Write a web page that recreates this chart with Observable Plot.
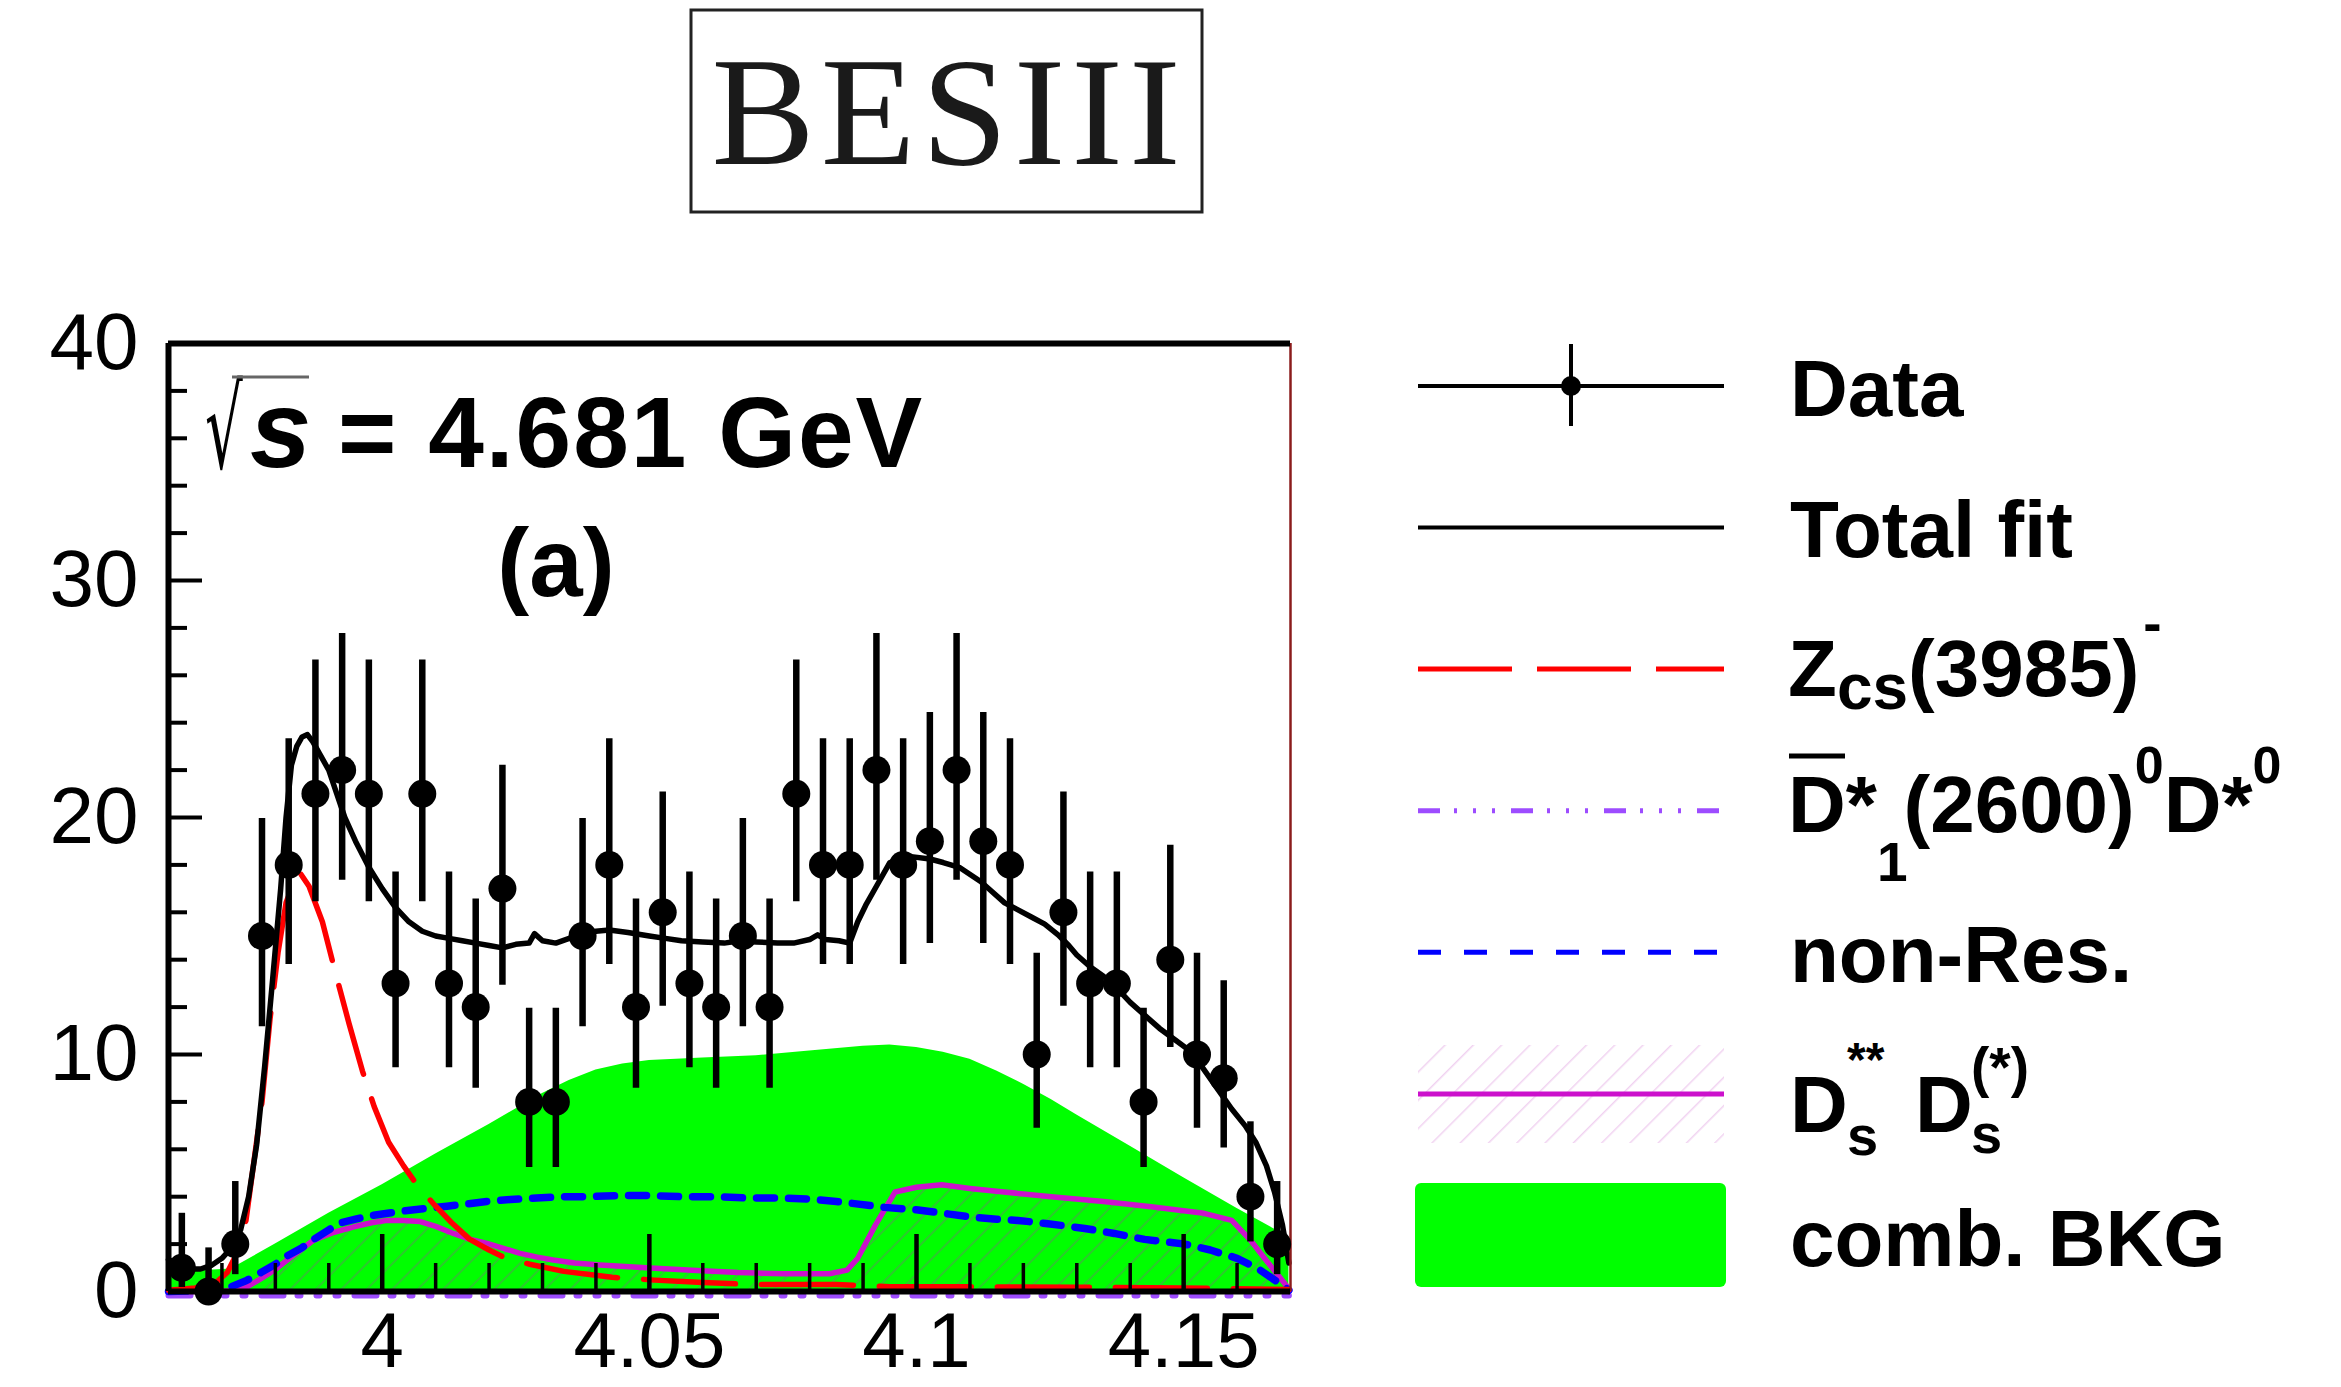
<!DOCTYPE html>
<html><head><meta charset="utf-8">
<script src="https://cdn.jsdelivr.net/npm/d3@7"></script>
<script src="https://cdn.jsdelivr.net/npm/@observablehq/plot@0.6"></script>
<style>
html,body{margin:0;padding:0;background:#fff;}
#wrap{position:relative;width:2341px;height:1387px;overflow:hidden;background:#fff;}
#wrap svg{position:absolute;left:0;top:0;}
</style></head><body><div id="wrap"></div>
<script>
// ---------- data ----------
const binCenters = [3.9625,3.9675,3.9725,3.9775,3.9825,3.9875,3.9925,3.9975,4.0025,4.0075,4.0125,4.0175,4.0225,4.0275,4.0325,4.0375,4.0425,4.0475,4.0525,4.0575,4.0625,4.0675,4.0725,4.0775,4.0825,4.0875,4.0925,4.0975,4.1025,4.1075,4.1125,4.1175,4.1225,4.1275,4.1325,4.1375,4.1425,4.1475,4.1525,4.1575,4.1625,4.1675];
const counts  = [1,0,2,15,18,21,22,21,13,21,13,12,17,8,8,15,18,12,16,13,12,15,12,21,18,18,22,18,19,22,19,18,10,16,13,13,8,14,10,9,4,2];
const errLow  = [0.17,0,0.71,11.17,13.8,16.45,17.35,16.45,9.44,16.45,9.44,8.58,12.92,5.23,5.23,11.17,13.8,8.58,12.04,9.44,8.58,11.17,8.58,16.45,13.8,13.8,17.35,13.8,14.68,17.35,14.68,13.8,6.89,12.04,9.44,9.44,5.23,10.3,6.89,6.06,2.09,0.71];
const errHigh = [3.3,1.84,4.64,19.96,23.32,26.65,27.76,26.65,17.7,26.65,17.7,16.56,22.2,11.95,11.95,19.96,23.32,16.56,21.08,17.7,16.56,19.96,16.56,26.65,23.32,23.32,27.76,23.32,24.43,27.76,24.43,23.32,14.27,21.08,17.7,17.7,11.95,18.83,14.27,13.11,7.16,4.64];

const fitX = [3.96,3.962,3.964,3.966,3.968,3.970,3.972,3.9735,3.975,3.9765,3.978,3.9795,3.981,3.982,3.983,3.984,3.985,3.986,3.987,3.9885,3.990,3.9915,3.993,3.995,3.9975,4.000,4.0025,4.005,4.0075,4.010,4.0125,4.015,4.0175,4.020,4.0225,4.025,4.0275,4.0285,4.030,4.0325,4.035,4.0375,4.040,4.0425,4.046,4.050,4.053,4.056,4.060,4.064,4.067,4.070,4.074,4.077,4.080,4.0815,4.083,4.0855,4.0875,4.089,4.0905,4.0925,4.095,4.099,4.1025,4.105,4.108,4.112,4.114,4.1165,4.119,4.1215,4.124,4.1265,4.1285,4.130,4.1325,4.135,4.1375,4.140,4.143,4.1455,4.1485,4.1515,4.154,4.1565,4.159,4.1615,4.1635,4.1655,4.167,4.1685,4.1697];
const fitY = [1.35,1.1,0.95,0.95,1.1,1.4,1.9,2.6,4.0,6.2,9.5,13.2,17.0,20.0,22.2,23.0,23.4,23.5,23.2,22.6,22.0,21.0,20.0,19.0,17.9,17.0,16.2,15.6,15.2,15.0,14.9,14.8,14.7,14.6,14.5,14.65,14.7,15.1,14.8,14.7,14.9,15.1,15.2,15.25,15.15,15.0,14.9,14.8,14.75,14.7,14.8,14.75,14.7,14.7,14.85,15.05,14.85,14.8,14.7,15.6,16.3,17.1,18.1,18.35,18.25,18.1,17.9,17.3,16.9,16.4,16.1,15.8,15.5,15.05,14.6,14.2,13.7,13.3,12.8,12.2,11.6,11.1,10.6,10.1,9.3,8.5,7.7,7.0,6.3,5.3,4.2,2.8,1.2];

const zcsX = [3.96,3.965,3.969,3.971,3.973,3.9745,3.976,3.9775,3.979,3.9805,3.982,3.9835,3.9848,3.9863,3.9888,3.9913,3.9938,3.9963,3.9985,4.0012,4.004,4.0065,4.0096,4.013,4.0164,4.020,4.0227,4.0276,4.034,4.043,4.051,4.060,4.069,4.085,4.095,4.110,4.130,4.150,4.1697];
const zcsY = [0.05,0.15,0.4,0.8,1.7,3.0,5.5,8.0,11.5,14.3,16.4,17.3,17.6,17.1,15.6,13.4,11.3,9.3,7.8,6.3,5.3,4.5,3.7,2.9,2.2,1.75,1.45,1.15,0.85,0.6,0.48,0.38,0.3,0.3,0.2,0.2,0.18,0.15,0.08];

const d1X = [3.96,4.0,4.05,4.1,4.15,4.1697];
const d1Y = [0,0,0,0,0,0];

const nonResX = [3.96,3.969,3.9717,3.9745,3.9773,3.980,3.9822,3.985,3.9872,3.990,3.9922,3.995,3.9978,4.001,4.004,4.008,4.0121,4.016,4.0196,4.024,4.0289,4.034,4.0382,4.045,4.050,4.056,4.062,4.068,4.074,4.080,4.085,4.0879,4.094,4.1003,4.105,4.110,4.115,4.119,4.125,4.1315,4.137,4.1427,4.1502,4.155,4.160,4.164,4.1675,4.1697];
const nonResY = [0.0,0.05,0.2,0.45,0.8,1.15,1.5,1.85,2.2,2.6,2.9,3.05,3.2,3.3,3.4,3.5,3.6,3.7,3.8,3.88,3.95,4.0,4.0,4.05,4.05,4.0,4.0,3.95,3.95,3.9,3.8,3.72,3.55,3.44,3.3,3.15,3.05,3.0,2.85,2.66,2.45,2.2,2.0,1.75,1.4,0.95,0.41,0.05];

const dsX = [3.96,3.970,3.9742,3.977,3.9798,3.9835,3.9872,3.991,3.9947,3.998,4.0009,4.004,4.0071,4.010,4.0133,4.0165,4.0196,4.023,4.0258,4.029,4.032,4.036,4.0407,4.0494,4.058,4.0666,4.0751,4.0837,4.087,4.089,4.0923,4.096,4.100,4.1047,4.110,4.1159,4.1252,4.135,4.1439,4.1538,4.159,4.1625,4.1655,4.1694,4.1697];
const dsY = [0,0,0.13,0.5,0.9,1.55,2.17,2.5,2.73,2.9,3.0,3.0,2.95,2.75,2.45,2.2,2.03,1.8,1.61,1.45,1.33,1.2,1.12,1.0,0.9,0.8,0.75,0.75,0.9,1.4,2.8,4.2,4.4,4.5,4.35,4.21,4.0,3.8,3.58,3.3,3.0,2.17,1.3,0.2,0];

const bkgX = [3.96,3.9717,3.98,3.99,4.00,4.01,4.02,4.025,4.03,4.035,4.04,4.045,4.05,4.06,4.07,4.08,4.09,4.095,4.10,4.105,4.11,4.115,4.12,4.1252,4.13,4.14,4.15,4.16,4.1697];
const bkgY = [0.8,0.95,2.0,3.3,4.5,5.8,7.05,7.7,8.35,8.9,9.35,9.6,9.75,9.85,9.95,10.15,10.35,10.4,10.3,10.1,9.8,9.3,8.75,8.1,7.45,6.13,4.8,3.5,2.3];

const yTickLabels = [0,10,20,30,40];
const yMajorTicks = [10,20,30];
const yMinorTicks = [2,4,6,8,12,14,16,18,22,24,26,28,32,34,36,38];
const xTickLabels = [4,4.05,4.1,4.15];
const xMajorTicks = [4,4.05,4.1,4.15];
const xMinorTicks = [3.97,3.98,3.99,4.01,4.02,4.03,4.04,4.06,4.07,4.08,4.09,4.11,4.12,4.13,4.14,4.16];

const legendLabels = ["Data","Total fit","Zcs(3985)-","D1*(2600)0D*0","non-Res.","Ds** Ds(*)","comb. BKG"];

// ---------- layout ----------
const W = 2341, H = 1387;
const mL = 168, mR = 1051, mT = 343, mB = 96;
const plotW = W - mL - mR, plotH = H - mT - mB;

const rows = (xs, ys) => xs.map((x, i) => ({x, y: ys[i]}));
const points = binCenters.map((x, i) => ({x, y: counts[i], lo: errLow[i], hi: errHigh[i]}));

const chart = Plot.plot({
  width: W, height: H,
  marginLeft: mL, marginRight: mR, marginTop: mT, marginBottom: mB,
  style: {fontFamily: "'Liberation Sans', Arial, Helvetica, sans-serif", background: "transparent", overflow: "visible", color: "#000"},
  x: {domain: [3.96, 4.17]},
  y: {domain: [0, 40]},
  marks: [
    Plot.areaY(rows(bkgX, bkgY), {x: "x", y: "y", fill: "#00ff00"}),
    Plot.areaY(rows(dsX, dsY), {x: "x", y: "y", fill: "url(#dshatch)"}),
    Plot.line(rows(d1X, d1Y), {x: "x", y: "y", stroke: "#9d4cff", strokeWidth: 6, strokeDasharray: "22,14,3,16,3,16,3,16", dy: 4}),
    Plot.line(rows(dsX, dsY), {x: "x", y: "y", stroke: "#cc11cc", strokeWidth: 5.5}),
    Plot.line(rows(nonResX, nonResY), {x: "x", y: "y", stroke: "#0000ff", strokeWidth: 7.5, strokeDasharray: "18,14"}),
    Plot.line(rows(zcsX, zcsY), {x: "x", y: "y", stroke: "#ff0000", strokeWidth: 5.5, strokeDasharray: "92,26"}),
    Plot.line(rows(fitX, fitY), {x: "x", y: "y", stroke: "#000", strokeWidth: 5.5}),
    // inward ticks
    Plot.ruleY(yMinorTicks, {y: d => d, stroke: "#000", strokeWidth: 4, insetRight: plotW - 19}),
    Plot.ruleY(yMajorTicks, {y: d => d, stroke: "#000", strokeWidth: 4, insetRight: plotW - 34}),
    Plot.ruleX(xMinorTicks, {x: d => d, stroke: "#000", strokeWidth: 3.5, insetTop: plotH - 28}),
    Plot.ruleX(xMajorTicks, {x: d => d, stroke: "#000", strokeWidth: 4.5, insetTop: plotH - 57}),
    // frame
    Plot.ruleX([4.17], {stroke: "#8b1c1c", strokeWidth: 2.5}),
    Plot.ruleY([40], {stroke: "#000", strokeWidth: 6}),
    Plot.ruleY([0], {stroke: "#000", strokeWidth: 6}),
    Plot.ruleX([3.96], {stroke: "#000", strokeWidth: 6}),
    // data
    Plot.ruleX(points, {x: "x", y1: "lo", y2: "hi", stroke: "#000", strokeWidth: 6.5}),
    Plot.dot(points, {x: "x", y: "y", r: 14, fill: "#000", stroke: "none"}),
    Plot.axisY({ticks: yTickLabels, tickSize: 0, tickPadding: 30, fontSize: 80, label: null}),
    Plot.axisX({ticks: xTickLabels, tickFormat: d => String(d), tickSize: 0, tickPadding: 20, fontSize: 78, label: null})
  ]
});
document.getElementById("wrap").appendChild(chart);

// hatch pattern
const defs = d3.select(chart).insert("defs", ":first-child");
const pat = defs.append("pattern").attr("id", "dshatch").attr("patternUnits", "userSpaceOnUse")
  .attr("width", 18).attr("height", 18).attr("patternTransform", "rotate(45)");
pat.append("line").attr("x1", 0).attr("y1", 0).attr("x2", 0).attr("y2", 18)
  .attr("stroke", "rgba(160,60,160,0.28)").attr("stroke-width", 4);

// ---------- overlay: title, annotation, legend ----------
const ov = d3.select("#wrap").append("svg").attr("width", W).attr("height", H)
  .style("font-family", "'Liberation Sans', Arial, Helvetica, sans-serif");
const odefs = ov.append("defs");
const pat2 = odefs.append("pattern").attr("id", "lhatch").attr("patternUnits", "userSpaceOnUse")
  .attr("width", 20).attr("height", 20).attr("patternTransform", "rotate(45)");
pat2.append("line").attr("x1", 0).attr("y1", 0).attr("x2", 0).attr("y2", 20)
  .attr("stroke", "rgba(200,80,200,0.25)").attr("stroke-width", 3);

// title box
ov.append("rect").attr("x", 691).attr("y", 10).attr("width", 511).attr("height", 202)
  .attr("fill", "none").attr("stroke", "#222").attr("stroke-width", 3);
ov.append("text").attr("x", 949).attr("y", 164).attr("text-anchor", "middle")
  .attr("font-family", "'Liberation Serif','Times New Roman',serif").attr("font-size", 155)
  .attr("letter-spacing", 6).attr("fill", "#1a1a1a").text("BESIII");

// annotation: sqrt(s) = 4.681 GeV
ov.append("text").attr("transform", "translate(205,468) scale(0.52,1)")
  .attr("font-family", "'DejaVu Sans', sans-serif")
  .attr("font-size", 114).attr("fill", "#000").text("\u221A");
ov.append("line").attr("x1", 232).attr("x2", 309).attr("y1", 377).attr("y2", 377)
  .attr("stroke", "#666").attr("stroke-width", 3);
ov.append("text").attr("x", 250).attr("y", 467).attr("font-size", 110).attr("font-weight", "bold")
  .attr("font-style", "italic").text("s");
ov.append("text").attr("x", 338).attr("y", 467).attr("font-size", 100).attr("font-weight", "bold")
  .attr("letter-spacing", 2).text("= 4.681 GeV");
ov.append("text").attr("x", 556).attr("y", 596).attr("font-size", 96).attr("font-weight", "bold")
  .attr("text-anchor", "middle").text("(a)");

// legend samples
const LX1 = 1418, LX2 = 1724, TX = 1790;
const rowY = [386, 527.5, 669, 810.7, 952.3, 1094, 1235.6];
const g = ov.append("g");
g.append("line").attr("x1", LX1).attr("x2", LX2).attr("y1", rowY[0]).attr("y2", rowY[0]).attr("stroke", "#000").attr("stroke-width", 4);
g.append("line").attr("x1", 1571).attr("x2", 1571).attr("y1", 344).attr("y2", 426).attr("stroke", "#000").attr("stroke-width", 4);
g.append("circle").attr("cx", 1571).attr("cy", rowY[0]).attr("r", 10).attr("fill", "#000");
g.append("line").attr("x1", LX1).attr("x2", LX2).attr("y1", rowY[1]).attr("y2", rowY[1]).attr("stroke", "#000").attr("stroke-width", 4);
g.append("line").attr("x1", LX1).attr("x2", LX2).attr("y1", rowY[2]).attr("y2", rowY[2]).attr("stroke", "#ff0000").attr("stroke-width", 5).attr("stroke-dasharray", "94,25");
g.append("line").attr("x1", LX1).attr("x2", LX2).attr("y1", rowY[3]).attr("y2", rowY[3]).attr("stroke", "#9d4cff").attr("stroke-width", 5).attr("stroke-dasharray", "22,14,3,16,3,16,3,16");
g.append("line").attr("x1", LX1).attr("x2", LX2).attr("y1", rowY[4]).attr("y2", rowY[4]).attr("stroke", "#0000ff").attr("stroke-width", 5).attr("stroke-dasharray", "23,23");
g.append("rect").attr("x", LX1).attr("y", 1045).attr("width", LX2 - LX1).attr("height", 98).attr("fill", "url(#lhatch)");
g.append("line").attr("x1", LX1).attr("x2", LX2).attr("y1", rowY[5]).attr("y2", rowY[5]).attr("stroke", "#cc11cc").attr("stroke-width", 5);
g.append("rect").attr("x", 1415).attr("y", 1183).attr("width", 311).attr("height", 104).attr("rx", 6).attr("fill", "#00ff00");

// legend texts
const T = (x, y, txt, size = 80) => ov.append("text").attr("x", x).attr("y", y).attr("font-size", size)
  .attr("font-weight", "bold").attr("fill", "#000").text(txt);
T(TX, 416, legendLabels[0]);
T(TX, 557, legendLabels[1]);
// Zcs(3985)-
{
  const t = ov.append("text").attr("x", 1788).attr("y", 696).attr("font-size", 80).attr("font-weight", "bold");
  t.append("tspan").text("Z");
  t.append("tspan").attr("font-size", 64).attr("dy", 13).text("cs");
  t.append("tspan").attr("font-size", 80).attr("dy", -13).text("(3985)");
  t.append("tspan").attr("font-size", 55).attr("dy", -54).attr("dx", 4).text("-");
}
// D1*(2600)0 D*0
{
  const t = ov.append("text").attr("x", 1788).attr("y", 832).attr("font-size", 80).attr("font-weight", "bold");
  t.append("tspan").text("D*");
  t.append("tspan").attr("font-size", 55).attr("dy", 49).text("1");
  t.append("tspan").attr("font-size", 80).attr("dy", -49).attr("dx", -4).text("(2600)");
  t.append("tspan").attr("font-size", 52).attr("dy", -49).text("0");
  t.append("tspan").attr("font-size", 80).attr("dy", 49).text("D*");
  t.append("tspan").attr("font-size", 52).attr("dy", -49).text("0");
  ov.append("line").attr("x1", 1789).attr("x2", 1845).attr("y1", 756).attr("y2", 756).attr("stroke", "#000").attr("stroke-width", 5);
}
T(TX, 982, legendLabels[4]);
// Ds** Ds(*)
T(1790, 1132, "D");
T(1847, 1076, "**", 48);
T(1847, 1155, "s", 56);
T(1915, 1132, "D");
T(1971, 1086, "(*)", 55);
T(1971, 1153, "s", 56);
T(TX, 1266, legendLabels[6]);
</script></body></html>
